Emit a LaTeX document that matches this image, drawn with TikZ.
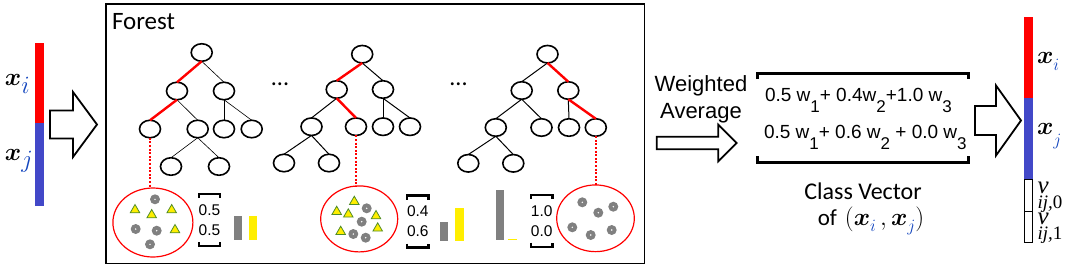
\documentclass[tikz,border=0pt]{standalone}
\usepackage{fontspec}
\usepackage{amsmath,amssymb}
\usepackage{tikz}
\usetikzlibrary{positioning,shapes.geometric}
\newfontfamily\calfont{Carlito}
\newfontfamily\arialfont{Liberation Sans}
\newfontfamily\timesfont{Liberation Serif}
\definecolor{xred}{RGB}{255,0,0}
\definecolor{xblue}{RGB}{66,72,200}
\definecolor{subblue}{RGB}{20,70,190}
\definecolor{ptgray}{RGB}{128,128,128}
\definecolor{ptyellow}{RGB}{255,238,0}
\definecolor{ptgreen}{RGB}{80,140,40}
% bold x with a lowered blue index: index, index size, drop
\newcommand{\xs}[3]{\boldsymbol{x}\mbox{\raisebox{#3}{\fontsize{#2}{#2}\selectfont$\textcolor{subblue}{#1}$}}}
\newcommand{\wsub}[1]{w\raisebox{-11pt}{\fontsize{17}{17}\selectfont #1}}
% v with its index set under it
\newcommand{\vlab}[1]{\timesfont\itshape\rlap{\fontsize{25}{25}\selectfont v}%
  \raisebox{-14.5pt}{\fontsize{19}{19}\selectfont ij,\upshape#1}}
% block arrow: x start, x head back, x tip, y mid, shaft half, head half
\newcommand{\hollowarrow}[6]{%
  \draw[line width=1.8pt,fill=white,line join=miter] (#1,#4-#5) -- (#2,#4-#5) -- (#2,#4-#6) -- (#3,#4)
    -- (#2,#4+#6) -- (#2,#4+#5) -- (#1,#4+#5) -- cycle;}

\begin{document}
\begin{tikzpicture}[x=1pt,y=-1pt,
    every node/.style={inner sep=0pt,outer sep=0pt},
    tn/.style={draw,ellipse,line width=1.6pt,minimum width=21pt,minimum height=17.5pt},
    thinedge/.style={line width=0.6pt},
    edge/.style={line width=1pt},
    redge/.style={xred,line width=2.4pt},
    leafline/.style={xred,line width=2pt,dash pattern=on 2pt off 1.6pt},
    leaf/.style={draw=xred,ellipse,line width=1.2pt,minimum width=77pt,minimum height=66pt},
    dot/.style={circle,fill=ptgray,minimum size=10pt,
      path picture={\fill[white] (path picture bounding box.center) circle (0.8pt);}},
    tri/.style={regular polygon,regular polygon sides=3,fill=ptyellow,draw=ptgreen,line width=0.8pt,minimum size=11pt},
    vec/.style={font=\arialfont\fontsize{15.5}{20}\selectfont,align=center,minimum height=52pt},
    brk/.style={line width=2.2pt},
    seg/.style={rectangle,minimum width=8.6pt},
    mlab/.style={anchor=base west,font=\fontsize{26}{30}\selectfont}]
  \useasboundingbox (0,0) rectangle (1078,269);

  % input vector
  \node[seg,fill=xred,minimum height=80pt] (lred) at (39.4,82.7) {};
  \node[seg,fill=xblue,minimum height=83pt] (lblue) at (39.4,164.2) {};
  \node[mlab] (lxi) at (5,85) {$\xs{i}{24}{-8pt}$};
  \node[mlab] (lxj) at (5,160) {$\xs{j}{24}{-7pt}$};
  \hollowarrow{50}{73}{97}{124.5}{14}{32.5}

  % forest
  \node[draw,line width=1.5pt,minimum width=538.5pt,minimum height=259.5pt] (forest) at (375.25,133.75) {};
  \node[anchor=base west,font=\calfont\fontsize{25}{30}\selectfont] (ftitle) at (112,29.5) {Forest};
  \node[anchor=base,font=\calfont\fontsize{24}{30}\selectfont] (dots1) at (280,85) {...};
  \node[anchor=base,font=\calfont\fontsize{24}{30}\selectfont] (dots2) at (458.5,85) {...};

  % tree 1
  \foreach \n/\x/\y in {a0/201.7/52.5,a1/177/91,a2/224/91,a11/150/129,a12/197.7/129,a21/224/129,
      a22/251.7/129,a121/171/166.5,a122/219/166.5}
    \node[tn] (\n) at (\x,\y) {};
  \foreach \u/\v in {a0/a2,a1/a12,a2/a21,a2/a22,a12/a121,a12/a122}
    \draw[thinedge] (\u.south) -- (\v.north);
  \foreach \u/\v in {a0/a1,a1/a11}
    \draw[redge] (\u.south) -- (\v.north);

  % tree 2
  \foreach \n/\x/\y in {b0/362.2/54.2,b1/336.7/89.5,b2/383/89.5,b11/311.5/126.7,b12/356/126.7,
      b21/383/126.7,b22/410/126.7,b111/284/163,b112/329/163}
    \node[tn] (\n) at (\x,\y) {};
  \foreach \u/\v in {b0/b2,b1/b11,b2/b21,b2/b22,b11/b111,b11/b112}
    \draw[edge] (\u.south) -- (\v.north);
  \foreach \u/\v in {b0/b1,b1/b12}
    \draw[redge] (\u.south) -- (\v.north);

  % tree 3
  \foreach \n/\x/\y in {c0/547.5/54.2,c1/521.7/90.5,c2/568.3/90.5,c11/495.8/127.5,c12/541.5/127.5,
      c21/569/127.5,c22/595.8/127.5,c111/468.3/163.3,c112/513.3/163.3}
    \node[tn] (\n) at (\x,\y) {};
  \foreach \u/\v in {c0/c1,c1/c11,c1/c12,c2/c21,c11/c111,c11/c112}
    \draw[edge] (\u.south) -- (\v.north);
  \foreach \u/\v in {c0/c2,c2/c22}
    \draw[redge] (\u.south) -- (\v.north);

  % leaves
  \node[leaf,minimum width=80pt,minimum height=69pt] (e1) at (152.9,222.5) {};
  \node[leaf] (e2) at (359.2,218.9) {};
  \node[leaf,minimum width=77.6pt,minimum height=66.7pt] (e3) at (595.5,218.3) {};
  \draw[leafline] (a11.south) -- (a11.south |- e1.north);
  \draw[leafline] (b12.south) -- (b12.south |- e2.north);
  \draw[leafline] (c22.south) -- (c22.south |- e3.north);

  \foreach \x/\y [count=\i] in {155/199.3,135.7/229,156.7/230.7,150/244.3}
    \node[dot] (g1\i) at (\x,\y) {};
  \foreach \x/\y [count=\i] in {135/210,151.7/215,171.7/210,175/230}
    \node[tri] (y1\i) at (\x,\y) {};
  \foreach \x/\y [count=\i] in {366.7/208.3,361.7/221.7,353.3/234,365.7/237.7}
    \node[dot] (g2\i) at (\x,\y) {};
  \foreach \x/\y [count=\i] in {354.3/201.7,336.7/211.7,348.3/214.3,376/216,340.7/231.7,377.7/228.3}
    \node[tri] (y2\i) at (\x,\y) {};
  \foreach \x/\y [count=\i] in {582.3/202.3,613.3/206.7,598.3/212.7,572.3/227.3,590.7/235,611.7/230}
    \node[dot] (g3\i) at (\x,\y) {};

  % leaf class vectors
  \node[vec] (p1) at (209.5,220) {0.5\\0.5};
  \node[vec] (p2) at (417.8,221.5) {0.4\\0.6};
  \node[vec] (p3) at (541.7,220.7) {1.0\\0.0};
  \foreach \p in {p1,p2,p3} {
    \draw[brk] ([yshift=-4pt]\p.north west) -- (\p.north west) -- (\p.north east) -- ([yshift=-4pt]\p.north east);
    \draw[brk] ([yshift=4pt]\p.south west) -- (\p.south west) -- (\p.south east) -- ([yshift=4pt]\p.south east);
  }
  \fill[ptgray] (234.3,216) rectangle (241.7,240);
  \fill[ptyellow] (249.3,216) rectangle (257.3,240);
  \fill[ptgray] (440,222.3) rectangle (448.3,240.7);
  \fill[ptyellow] (455,207.7) rectangle (464,240.7);
  \fill[ptgray] (496,190) rectangle (504,240);
  \fill[ptyellow] (508.3,239.3) rectangle (516.7,240.3);

  % weighted average
  \node[align=center,font=\arialfont\fontsize{22}{26.7}\selectfont] (wavg) at (701,99.3) {Weighted\\Average};
  \hollowarrow{656.7}{718.3}{736.7}{143}{6.3}{18.3}
  \node[anchor=base west,font=\arialfont\fontsize{19}{24}\selectfont] (eq1) at (765,101.7)
    {0.5 \wsub{1}+ 0.4\wsub{2}+1.0 \wsub{3}};
  \node[anchor=base west,font=\arialfont\fontsize{19}{24}\selectfont] (eq2) at (764,138.3)
    {0.5 \wsub{1}+ 0.6 \wsub{2} + 0.0 \wsub{3}};
  \draw[line width=3pt] (757,79) -- (757,73.5) -- (968,73.5) -- (968,79);
  \draw[line width=3pt] (757,156) -- (757,162) -- (968,162) -- (968,156);
  \node[anchor=base,font=\calfont\fontsize{24}{30}\selectfont] (cv1) at (863,199.3) {Class Vector};
  \node[anchor=base,font=\fontsize{23}{28}\selectfont] (cv2) at (871,225)
    {{\calfont of}\hspace{8pt}$(\xs{i}{16}{-6pt}\,, \xs{j}{16}{-6pt})$};

  % output vector
  \hollowarrow{975}{996}{1021}{120.5}{14.5}{35}
  \node[seg,fill=xred,minimum height=80.7pt] (rred) at (1028.5,57.35) {};
  \node[seg,fill=xblue,minimum height=81.6pt] (rblue) at (1028.5,138.5) {};
  \node[seg,draw,line width=1.2pt,minimum width=7.6pt,minimum height=32.4pt] (rv0box) at (1028.5,195.5) {};
  \node[seg,draw,line width=1.2pt,minimum width=7.6pt,minimum height=31pt] (rv1box) at (1028.5,227.2) {};
  \node[mlab] (rxi) at (1037,63.3) {$\xs{i}{16}{-7pt}$};
  \node[mlab] (rxj) at (1037,134) {$\xs{j}{16}{-11pt}$};
  \node[mlab] (rv0) at (1037.5,193.5) {\vlab{0}};
  \node[mlab] (rv1) at (1037.5,224.5) {\vlab{1}};
\end{tikzpicture}
\end{document}
